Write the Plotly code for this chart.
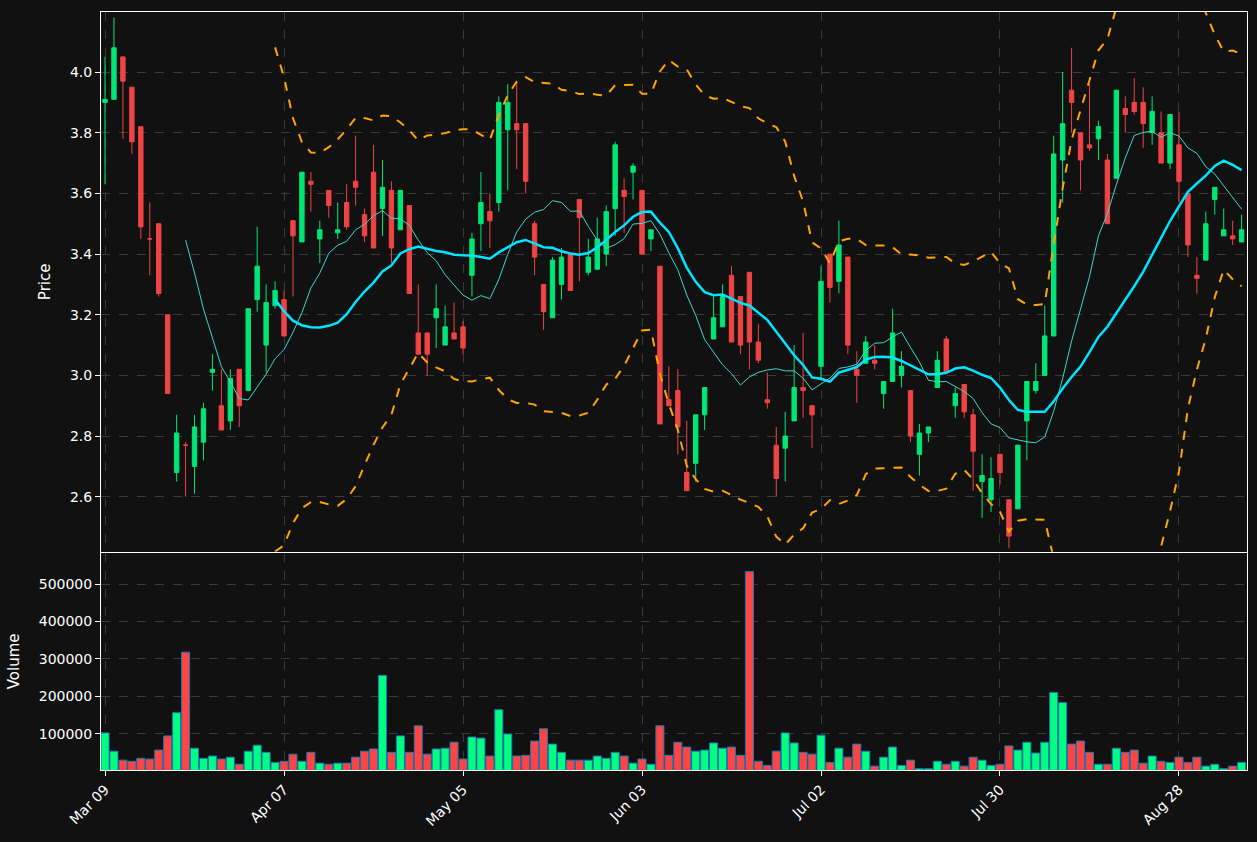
import pandas as pd
import plotly.graph_objects as go
from plotly.subplots import make_subplots

opens = [3.90,3.91,4.05,3.95,3.82,3.45,3.50,3.20,2.68,2.77,2.70,2.78,3.01,2.90,2.85,3.02,2.95,3.25,3.10,3.23,
         3.25,3.51,3.44,3.64,3.45,3.61,3.47,3.57,3.64,3.53,3.67,3.55,3.61,3.48,3.56,3.14,3.14,3.19,3.10,3.14,
         3.16,3.33,3.50,3.54,3.57,3.81,3.83,3.83,3.50,3.30,3.19,3.30,3.40,3.58,3.34,3.35,3.40,3.55,3.61,3.67,
         3.61,3.45,3.36,2.92,2.95,2.68,2.71,2.87,3.12,3.16,3.33,3.26,3.34,3.11,2.92,2.77,2.76,2.85,2.96,2.90,
         3.03,3.40,3.31,3.39,3.02,3.04,3.05,2.94,2.98,3.00,2.95,2.74,2.81,2.96,3.12,2.90,2.97,2.87,2.65,2.59,
         2.74,2.59,2.56,2.85,2.95,3.00,3.13,3.71,3.94,3.80,3.76,3.78,3.71,3.65,3.88,3.90,3.90,3.80,3.80,3.70,
         3.76,3.60,3.33,3.38,3.58,3.46,3.46,3.44]
closes = [3.91,4.08,3.97,3.77,3.49,3.45,3.27,2.94,2.81,2.77,2.83,2.89,3.02,2.82,2.99,2.90,3.22,3.36,3.24,3.28,
          3.13,3.46,3.67,3.63,3.48,3.56,3.48,3.49,3.62,3.46,3.42,3.62,3.42,3.61,3.27,3.07,3.07,3.22,3.16,3.12,
          3.09,3.45,3.57,3.51,3.90,3.90,3.81,3.64,3.39,3.21,3.38,3.39,3.28,3.52,3.39,3.45,3.54,3.76,3.59,3.69,
          3.40,3.48,2.84,2.90,2.83,2.62,2.87,2.96,3.19,3.26,3.11,3.10,3.11,3.05,2.91,2.66,2.80,2.96,2.95,2.87,
          3.31,3.29,3.43,3.10,3.00,3.11,3.04,2.98,3.14,3.03,2.80,2.81,2.83,3.05,3.01,2.94,2.88,2.75,2.67,2.66,
          2.68,2.47,2.77,2.98,2.98,3.13,3.73,3.83,3.90,3.71,3.75,3.82,3.50,3.94,3.86,3.87,3.83,3.87,3.70,3.86,
          3.64,3.43,3.32,3.50,3.62,3.48,3.45,3.48]
highs = [4.05,4.18,4.05,3.95,3.82,3.57,3.50,3.20,2.87,2.78,2.87,2.91,3.07,3.02,3.02,3.02,3.22,3.49,3.30,3.31,
         3.28,3.51,3.67,3.67,3.51,3.61,3.57,3.63,3.79,3.55,3.76,3.71,3.64,3.61,3.56,3.30,3.14,3.30,3.23,3.24,
         3.18,3.47,3.67,3.60,3.92,3.96,3.97,3.83,3.51,3.30,3.39,3.42,3.40,3.58,3.45,3.52,3.56,3.77,3.65,3.70,
         3.61,3.48,3.36,3.03,3.02,2.85,2.87,2.96,3.26,3.30,3.36,3.26,3.34,3.17,3.01,2.83,2.88,3.10,3.14,2.90,
         3.36,3.40,3.51,3.39,3.08,3.13,3.10,2.98,3.22,3.08,2.95,2.84,2.83,3.08,3.13,2.96,2.97,2.89,2.74,2.73,
         2.74,2.59,2.77,2.98,3.04,3.23,3.79,4.00,4.08,3.80,3.96,3.84,3.73,3.94,3.92,3.98,3.95,3.92,3.87,3.86,
         3.87,3.60,3.39,3.54,3.62,3.55,3.51,3.53]
lows = [3.63,3.91,3.78,3.73,3.45,3.33,3.26,2.94,2.65,2.60,2.61,2.72,2.95,2.82,2.82,2.83,2.95,3.21,3.01,3.22,
        3.13,3.26,3.44,3.54,3.37,3.52,3.45,3.48,3.56,3.44,3.42,3.46,3.37,3.48,3.27,3.07,3.00,3.09,3.10,3.12,
        3.07,3.26,3.41,3.42,3.54,3.61,3.68,3.60,3.33,3.15,3.19,3.25,3.28,3.31,3.33,3.35,3.36,3.46,3.47,3.58,
        3.40,3.41,2.84,2.90,2.74,2.62,2.65,2.82,3.12,3.16,3.11,3.07,3.02,3.04,2.89,2.60,2.65,2.85,2.86,2.76,
        2.99,3.24,3.27,3.07,2.91,3.04,3.02,2.89,2.98,2.96,2.78,2.67,2.78,2.96,3.01,2.86,2.86,2.62,2.53,2.55,
        2.64,2.43,2.56,2.72,2.94,3.00,3.13,3.57,3.80,3.61,3.74,3.71,3.50,3.65,3.80,3.86,3.75,3.76,3.70,3.68,
        3.57,3.39,3.27,3.38,3.53,3.46,3.43,3.44]
volumes = [102,53,29,26,34,32,56,94,156,318,61,34,40,32,37,18,53,69,50,23,
           26,45,26,50,21,18,21,21,37,53,59,256,50,94,50,121,45,59,61,77,
           32,91,88,40,164,99,40,42,80,113,72,50,29,29,29,40,34,50,40,21,
           32,18,121,42,77,64,53,56,75,61,64,42,534,26,15,53,102,75,50,45,
           96,23,61,37,72,53,13,37,64,15,29,6,6,26,18,26,13,37,29,15,
           18,67,56,77,48,77,210,183,72,80,50,18,18,61,50,56,21,40,26,23,
           37,23,37,13,18,6,13,23]
volumes = [v * 1000 for v in volumes]
vol_up = "GGRRRRRRGRGGGRGRGGGGRRGRGRGRRRRGRGRRRGGRRGGRGGRRRRGGRRGGGGRGRGRR" \
         "RRGGGGRRRRRRGGRRGRGRRGRGGGRGGGRGRRGGRRGGGGGGRRRGRGRRRGRGRRRGGGRG"
tick_pos = [0, 20, 40, 60, 80, 100, 120]
tick_labels = ["Mar 09", "Apr 07", "May 05", "Jun 03", "Jul 02", "Jul 30", "Aug 28"]

x = list(range(len(closes)))
cs = pd.Series(closes)
sma10 = cs.rolling(10).mean()
sma20 = cs.rolling(20).mean()
std20 = cs.rolling(20).std()
upper = sma20 + 2 * std20
lower = sma20 - 2 * std20

fig = make_subplots(rows=2, cols=1, shared_xaxes=True, vertical_spacing=0.0015,
                    row_heights=[0.713, 0.287])
fig.add_trace(go.Candlestick(x=x, open=opens, high=highs, low=lows, close=closes,
                             increasing=dict(line=dict(color="#00e676", width=1), fillcolor="#00e676"),
                             decreasing=dict(line=dict(color="#ef4444", width=1), fillcolor="#ef4444"),
                             whiskerwidth=0, showlegend=False), row=1, col=1)
fig.add_trace(go.Scatter(x=x, y=upper, mode="lines", line=dict(color="#ffa500", width=2, dash="dash"),
                         showlegend=False), row=1, col=1)
fig.add_trace(go.Scatter(x=x, y=lower, mode="lines", line=dict(color="#ffa500", width=2, dash="dash"),
                         showlegend=False), row=1, col=1)
fig.add_trace(go.Scatter(x=x, y=sma10, mode="lines", line=dict(color="#3fd6cc", width=1),
                         showlegend=False), row=1, col=1)
fig.add_trace(go.Scatter(x=x, y=sma20, mode="lines", line=dict(color="#00e5ff", width=2.5),
                         showlegend=False), row=1, col=1)
vcolors = ["#00ff80" if c == "G" else "#ff4444" for c in vol_up]
fig.add_trace(go.Bar(x=x, y=volumes, width=0.9, marker=dict(color=vcolors, line=dict(color="#1f77b4", width=1)),
                     showlegend=False), row=2, col=1)

grid = dict(showgrid=True, gridcolor="#3a3a3a", griddash="dash", gridwidth=1,
            showline=True, linecolor="white", linewidth=1, mirror=True, zeroline=False,
            tickfont=dict(color="white", size=14), ticks="outside", tickcolor="white")
fig.update_xaxes(**grid, range=[-0.45, 127.6], tickvals=tick_pos, ticktext=tick_labels,
                 rangeslider=dict(visible=False))
fig.update_xaxes(tickangle=-45, row=2, col=1)
fig.update_xaxes(showticklabels=False, row=1, col=1)
fig.update_yaxes(**grid)
fig.update_yaxes(range=[2.419, 4.198], dtick=0.2, tickformat=".1f",
                 title=dict(text="Price", font=dict(color="white", size=15)), row=1, col=1)
fig.update_yaxes(range=[2700, 584000], tickvals=[100000, 200000, 300000, 400000, 500000],
                 tickformat="d",
                 title=dict(text="Volume", font=dict(color="white", size=15)), row=2, col=1)
fig.update_layout(width=1257, height=842, paper_bgcolor="#111111", plot_bgcolor="#111111",
                  margin=dict(l=101, r=10, t=12, b=72), bargap=0.1,
                  font=dict(family="DejaVu Sans", color="white"))
fig.write_html("out.html", include_plotlyjs=True, config={"displayModeBar": False},
               post_script="document.body.style.margin='0';document.body.style.background='#111111';")
